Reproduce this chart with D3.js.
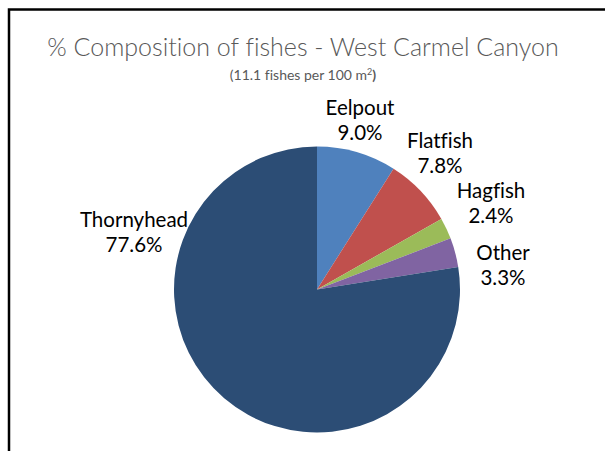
<!DOCTYPE html>
<html><head><meta charset="utf-8">
<script src="https://cdn.jsdelivr.net/npm/d3@7"></script>
<style>body{margin:0;background:#fff;} svg{display:block;} text{font-variant-ligatures:none;font-feature-settings:"liga" 0;}</style>
</head><body>
<svg id="c" width="605" height="451"></svg>
<script>
const categories = ["Eelpout", "Flatfish", "Hagfish", "Other", "Thornyhead"];
const values = [9.0, 7.8, 2.4, 3.3, 77.6];
const colors = ["#4F81BD", "#C0504D", "#9BBB59", "#8064A2", "#2C4D75"];
const labelText = ["9.0%", "7.8%", "2.4%", "3.3%", "77.6%"];
const title = "% Composition of fishes - West Carmel Canyon";

const svg = d3.select("#c");
const font = "Lato, 'Open Sans', sans-serif";

// frame
svg.append("path").attr("d", "M9,451 V9.5 H605").attr("fill","none").attr("stroke","#000").attr("stroke-width",2.5);

const cx = 317, cy = 289.5, r = 143;
const data = categories.map((c,i)=>({name:c, value:values[i], color:colors[i], label:labelText[i]}));
const pie = d3.pie().sort(null).value(d=>d.value);
const arcs = pie(data);
const arc = d3.arc().innerRadius(0).outerRadius(r);
const g = svg.append("g").attr("transform",`translate(${cx},${cy})`);
g.selectAll("path").data(arcs).join("path").attr("d",arc).attr("fill",d=>d.data.color);

// label anchor positions (layout) matching the reference
const anchors = [[360,115],[440,148],[491,198],[503,260],[134,227]];
const lbl = svg.append("g").attr("font-family",font).attr("font-size",20.5).attr("fill","#000").attr("text-anchor","middle");
arcs.forEach((a,i)=>{
  const t = lbl.append("text").attr("transform",`translate(${anchors[i][0]},${anchors[i][1]})`);
  t.append("tspan").attr("x",0).attr("dy",0).text(a.data.name);
  t.append("tspan").attr("x",0).attr("dy",25).text(a.data.label);
});

svg.append("text").attr("x",303).attr("y",56).attr("text-anchor","middle")
  .attr("font-family",font).attr("font-size",25).attr("font-weight",300).attr("fill","#595959").text(title);
const sub = svg.append("text").attr("x",303).attr("y",80).attr("text-anchor","middle")
  .attr("font-family",font).attr("font-size",14).attr("fill","#595959");
sub.append("tspan").text("(11.1 fishes per 100 m");
sub.append("tspan").attr("font-size",9).attr("dy",-5).text("2");
sub.append("tspan").attr("dy",5).attr("font-weight","bold").text(")");
</script>
</body></html>
